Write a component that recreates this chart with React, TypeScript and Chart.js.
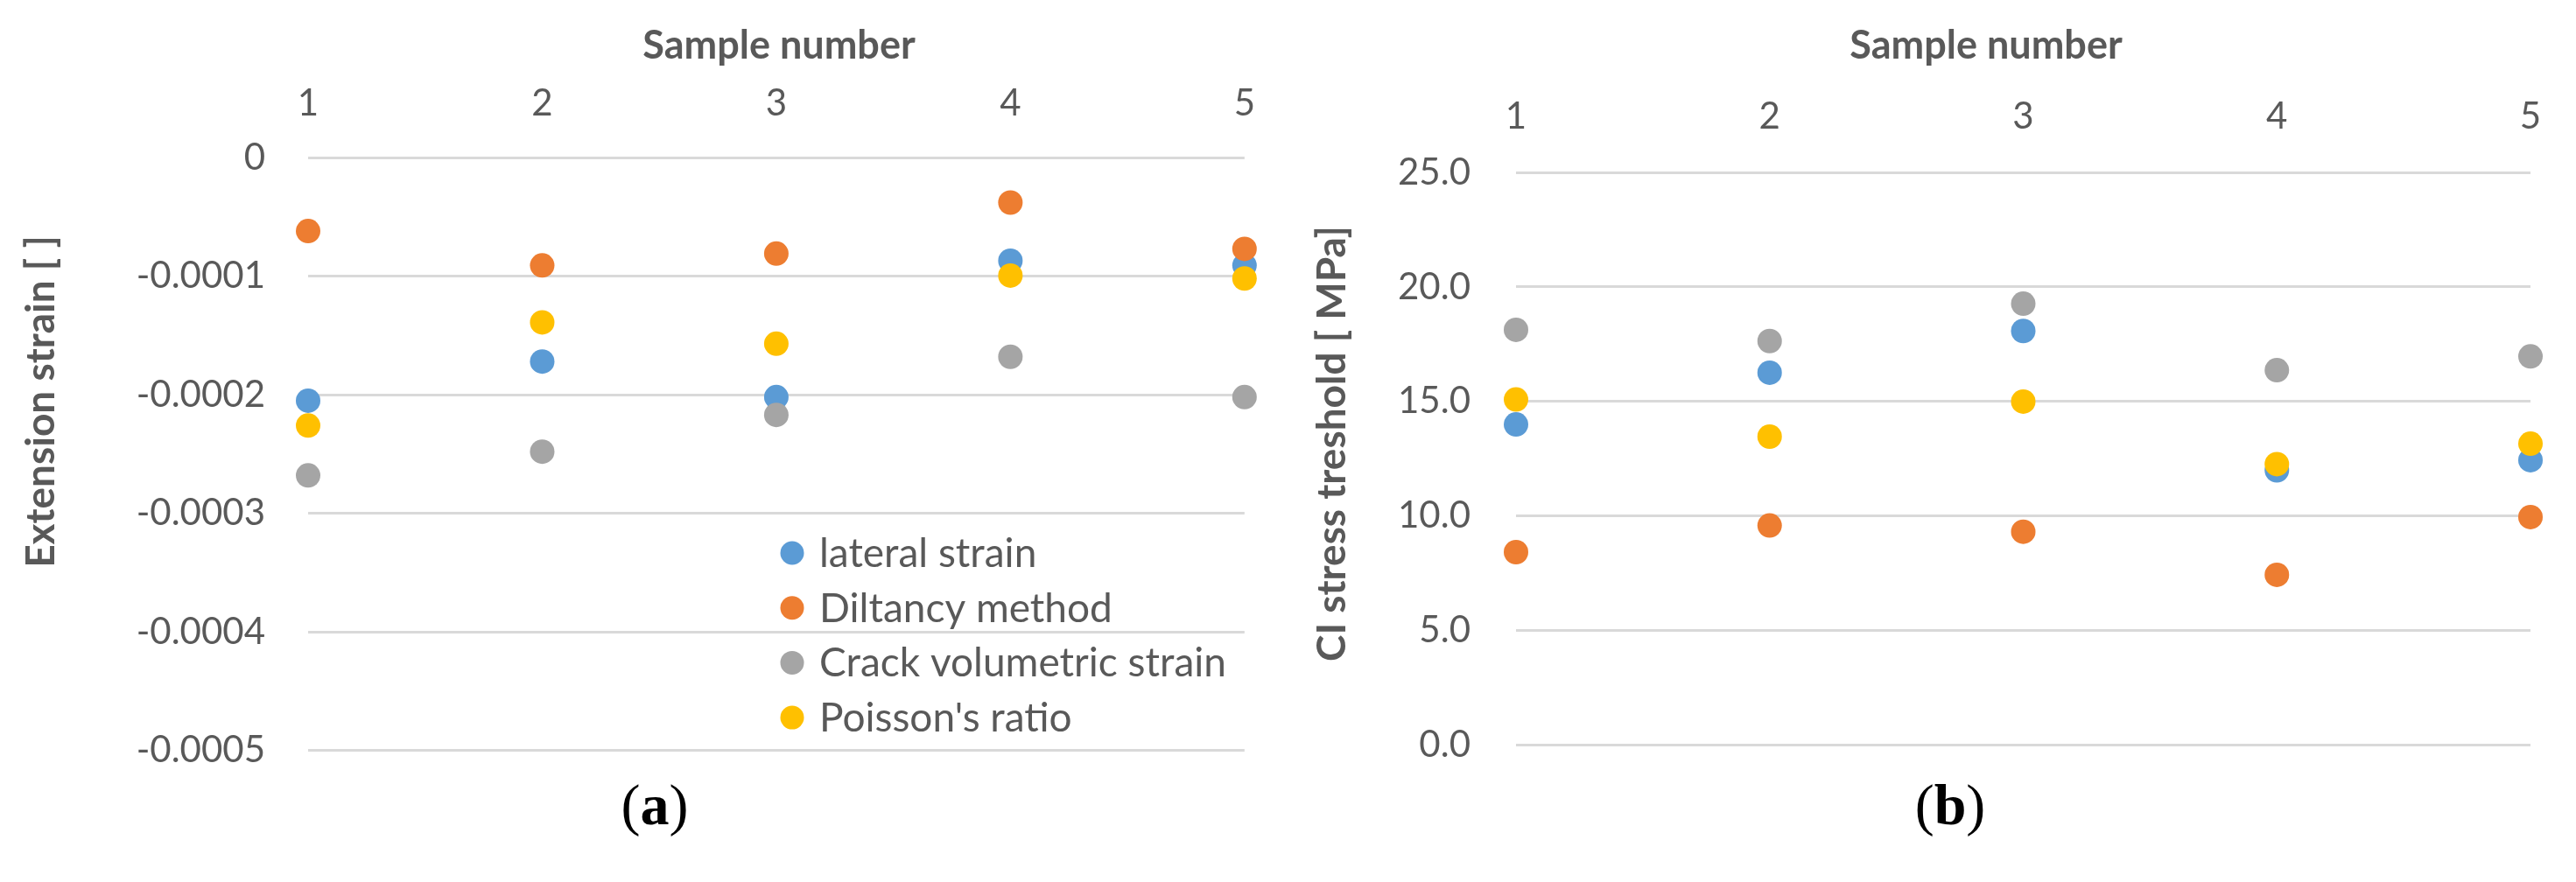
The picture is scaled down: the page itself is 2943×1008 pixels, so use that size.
import React, { useEffect, useRef } from 'react';
import { Chart, registerables } from 'chart.js';

Chart.register(...registerables);

// ---------- data ----------
const sampleNumbers = [1, 2, 3, 4, 5];
const xTickLabels = ['1', '2', '3', '4', '5'];

const seriesNames = ['lateral strain', 'Diltancy method', 'Crack volumetric strain', "Poisson's ratio"];
const seriesColors = ['#5B9BD5', '#ED7D31', '#A5A5A5', '#FFC000'];

// (a) Extension strain [ ]
const lateralStrainA = [-0.000205, -0.000172, -0.000202, -0.000087, -0.000091];
const dilatancyA = [-0.000062, -0.000091, -0.000081, -0.000038, -0.000077];
const crackVolumetricA = [-0.000268, -0.000248, -0.000217, -0.000168, -0.000202];
const poissonA = [-0.000226, -0.000139, -0.000157, -0.0000995, -0.000102];

// (b) CI stress treshold [ MPa]
const lateralStrainB = [14.0, 16.26, 18.08, 12.0, 12.44];
const dilatancyB = [8.43, 9.59, 9.32, 7.44, 9.96];
const crackVolumetricB = [18.13, 17.64, 19.27, 16.37, 16.97];
const poissonB = [15.09, 13.47, 15.0, 12.27, 13.16];

const yTickValuesA = [-0.0005, -0.0004, -0.0003, -0.0002, -0.0001, 0];
const yTickLabelsA = ['-0.0005', '-0.0004', '-0.0003', '-0.0002', '-0.0001', '0'];
const yTickValuesB = [0, 5, 10, 15, 20, 25];
const yTickLabelsB = ['0.0', '5.0', '10.0', '15.0', '20.0', '25.0'];

const xTitle = 'Sample number';
const yTitleA = 'Extension strain [ ]';
const yTitleB = 'CI stress treshold [ MPa]';

// ---------- styling ----------
const SANS = "Lato, 'Open Sans', 'DejaVu Sans', sans-serif";
const TEXT = '#595959';
const GRID = '#D9D9D9';

const insideLegend = {
  id: 'insideLegend',
  afterDatasetsDraw(chart: any, _args: any, opts: any) {
    if (!opts || !opts.display) return;
    const ctx = chart.ctx;
    ctx.save();
    ctx.font = `${opts.fontSize}px ${SANS}`;
    ctx.textBaseline = 'middle';
    ctx.textAlign = 'left';
    chart.data.datasets.forEach((ds: any, i: number) => {
      const y = opts.y + i * opts.rowHeight;
      ctx.beginPath();
      ctx.arc(opts.x, y, opts.radius, 0, Math.PI * 2);
      ctx.fillStyle = ds.backgroundColor;
      ctx.fill();
      ctx.fillStyle = TEXT;
      ctx.fillText(ds.label, opts.x + opts.textGap, y + 1);
    });
    ctx.restore();
  },
};

const axisTitles = {
  id: 'axisTitles',
  afterDraw(chart: any, _args: any, opts: any) {
    if (!opts) return;
    const ctx = chart.ctx;
    ctx.save();
    ctx.fillStyle = TEXT;
    ctx.textAlign = 'center';
    ctx.textBaseline = 'middle';
    ctx.font = `bold ${opts.xSize}px ${SANS}`;
    ctx.fillText(opts.xText, opts.xX, opts.xY);
    ctx.translate(opts.yX, opts.yY);
    ctx.rotate(-Math.PI / 2);
    ctx.font = `bold ${opts.ySize}px ${SANS}`;
    ctx.fillText(opts.yText, 0, 0);
    ctx.restore();
  },
};

function makeDatasets(series: number[][]) {
  return series.map((vals, i) => ({
    type: 'scatter' as const,
    label: seriesNames[i],
    data: sampleNumbers.map((x, j) => ({ x, y: vals[j] })),
    backgroundColor: seriesColors[i],
    borderColor: seriesColors[i],
    pointBackgroundColor: seriesColors[i],
    pointBorderColor: seriesColors[i],
    pointBorderWidth: 0,
    borderWidth: 0,
    pointRadius: 14,
    pointHoverRadius: 14,
    showLine: false,
    clip: false as any,
    order: 4 - i,
  }));
}

type Cfg = {
  series: number[][];
  yMin: number;
  yMax: number;
  yVals: number[];
  yLabels: string[];
  yAxisWidth: number;
  xAxisHeight: number;
  xTickPad: number;
  yTickPad: number;
  padRight: number;
  legend: any;
  titles: any;
};

function makeConfig(c: Cfg): any {
  return {
    type: 'scatter',
    data: { datasets: makeDatasets(c.series) },
    plugins: [insideLegend, axisTitles],
    options: {
      responsive: false,
      maintainAspectRatio: false,
      animation: false,
      devicePixelRatio: 1,
      layout: { padding: { left: 0, top: 0, right: c.padRight, bottom: 0 } },
      plugins: {
        legend: { display: false },
        tooltip: { enabled: false },
        insideLegend: c.legend,
        axisTitles: c.titles,
      },
      scales: {
        x: {
          type: 'linear',
          position: 'top',
          min: sampleNumbers[0],
          max: sampleNumbers[sampleNumbers.length - 1],
          afterBuildTicks: (s: any) => {
            s.ticks = sampleNumbers.map((v) => ({ value: v }));
          },
          afterFit: (s: any) => {
            s.height = c.xAxisHeight;
          },
          grid: { display: false, drawTicks: false },
          border: { display: false },
          ticks: {
            padding: c.xTickPad,
            color: TEXT,
            maxRotation: 0,
            autoSkip: false,
            font: { family: SANS, size: 42 },
            callback: (v: number) => xTickLabels[sampleNumbers.indexOf(v)],
          },
          title: { display: false, text: xTitle },
        },
        y: {
          type: 'linear',
          min: c.yMin,
          max: c.yMax,
          afterBuildTicks: (s: any) => {
            s.ticks = c.yVals.map((v) => ({ value: v }));
          },
          afterFit: (s: any) => {
            s.width = c.yAxisWidth;
          },
          grid: { color: GRID, lineWidth: 3, drawTicks: false },
          border: { display: false },
          ticks: {
            padding: c.yTickPad,
            color: TEXT,
            font: { family: SANS, size: 42 },
            callback: (v: number) => c.yLabels[c.yVals.indexOf(v)],
          },
          title: { display: false },
        },
      },
    },
  };
}

function ChartCanvas({ cfg, width, height, left }: { cfg: Cfg; width: number; height: number; left: number }) {
  const ref = useRef<HTMLCanvasElement | null>(null);
  useEffect(() => {
    if (!ref.current) return;
    const chart = new Chart(ref.current, makeConfig(cfg));
    let alive = true;
    if ((document as any).fonts && (document as any).fonts.ready) {
      (document as any).fonts.ready.then(() => {
        if (alive) chart.update();
      });
    }
    return () => {
      alive = false;
      chart.destroy();
    };
  }, []);
  return (
    <canvas
      ref={ref}
      width={width}
      height={height}
      style={{ position: 'absolute', left, top: 0, width, height }}
    />
  );
}

const cfgA: Cfg = {
  series: [lateralStrainA, dilatancyA, crackVolumetricA, poissonA],
  yMin: -0.0005,
  yMax: 0,
  yVals: yTickValuesA,
  yLabels: yTickLabelsA,
  yAxisWidth: 352,
  xAxisHeight: 180,
  xTickPad: 36,
  yTickPad: 49,
  padRight: 30,
  legend: { display: true, x: 905, y: 632, rowHeight: 62.7, radius: 13.5, textGap: 31, fontSize: 46 },
  titles: { xText: xTitle, xX: 890, xY: 52, xSize: 45, yText: yTitleA, yX: 47, yY: 459, ySize: 46 },
};

const cfgB: Cfg = {
  series: [lateralStrainB, dilatancyB, crackVolumetricB, poissonB],
  yMin: 0,
  yMax: 25,
  yVals: yTickValuesB,
  yLabels: yTickLabelsB,
  yAxisWidth: 262,
  xAxisHeight: 197,
  xTickPad: 38,
  yTickPad: 52,
  padRight: 52,
  legend: { display: false },
  titles: { xText: xTitle, xX: 799, xY: 52, xSize: 45, yText: yTitleB, yX: 52, yY: 507, ySize: 46 },
};

function PanelLabel({ letter, cx, cy }: { letter: string; cx: number; cy: number }) {
  return (
    <div
      style={{
        position: 'absolute',
        left: cx,
        top: cy,
        transform: 'translate(-50%, -50%)',
        fontFamily: "'Liberation Serif', 'DejaVu Serif', serif",
        fontSize: 66,
        lineHeight: 1,
        color: '#000',
        whiteSpace: 'nowrap',
      }}
    >
      (<b>{letter}</b>)
    </div>
  );
}

export default function App() {
  return (
    <div
      style={{
        position: 'fixed',
        left: 0,
        top: 0,
        width: 2943,
        height: 1008,
        background: '#fff',
        overflow: 'hidden',
      }}
    >
      <ChartCanvas cfg={cfgA} width={1470} height={932} left={0} />
      <ChartCanvas cfg={cfgB} width={1473} height={929} left={1470} />
      <PanelLabel letter="a" cx={748} cy={920} />
      <PanelLabel letter="b" cx={2228} cy={920} />
    </div>
  );
}
